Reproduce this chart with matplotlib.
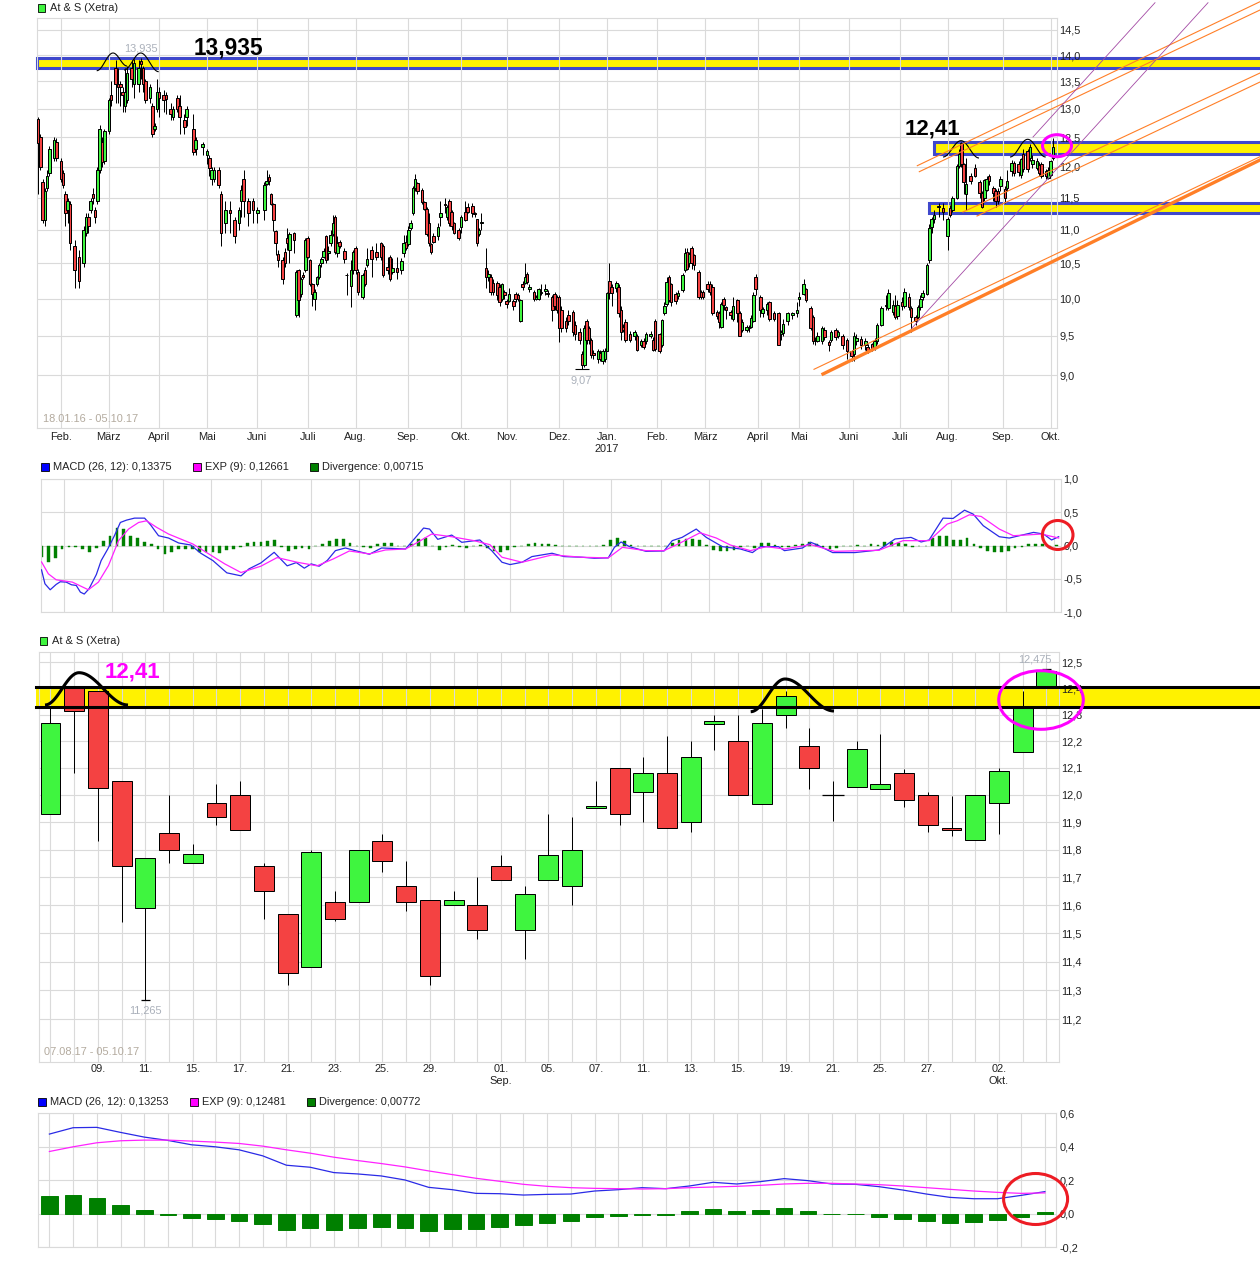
import numpy as np
import matplotlib
matplotlib.use("Agg")
import matplotlib.pyplot as plt
from matplotlib.patches import Rectangle, Ellipse

plt.rcParams["font.family"] = ["Liberation Sans", "DejaVu Sans"]

W, H = 1260, 1272

# long term chart, trading day number and prices
top_day = [0,1,2,3,4,5,7,8,10,11,
    12,13,14,16,18,20,21,22,23,24,
    25,26,27,28,29,31,32,34,35,36,
    37,38,39,41,42,44,45,46,47,49,
    50,51,52,53,55,56,58,59,61,62,
    64,65,68,69,72,74,75,76,77,79,
    80,82,84,86,88,89,90,92,94,96,
    99,100,101,102,103,104,105,107,108,109,
    110,112,113,114,115,116,117,118,119,120,
    121,122,123,124,125,126,127,128,129,130,
    131,132,134,135,137,138,139,140,142,143,
    144,146,148,150,151,153,154,155,157,159,
    160,161,162,163,164,165,166,168,169,170,
    171,172,173,175,176,178,179,180,181,182,
    184,185,187,188,190,191,192,193,194,196,
    197,198,199,201,202,203,204,205,206,208,
    209,210,211,212,213,214,215,217,218,219,
    220,222,223,225,226,227,228,229,231,232,
    234,235,237,238,239,240,241,242,243,245,
    246,247,248,249,250,251,253,254,255,256,
    257,259,261,262,264,265,266,268,269,270,
    272,273,274,275,276,277,279,280,282,283,
    284,285,286,287,289,290,291,293,294,295,
    297,298,299,300,301,303,304,306,307,308,
    310,311,312,313,314,316,317,319,320,322,
    324,325,326,328,330,332,333,335,336,338,
    339,340,341,343,344,346,347,349,350,352,
    354,356,357,358,360,362,363,365,366,367,
    369,371,372,374,375,376,378,379,381,382,
    384,385,386,387,389,390,391,392,394,396,
    398,399,400,402,403,404,405,406,408,410,
    412,413,414,415,416,418,419,420,421,423,
    424,426,427,429,430,431,433,434,435,437,
    438,439,441,442,443,444]
top_open = [12.82,12.5,11.75,11.15,11.65,11.9,12.15,12.42,12.1,11.9,
    11.55,11.3,11.4,10.75,10.6,10.5,10.95,11.2,11.3,11.55,
    11.3,11.45,11.95,12.42,12.1,12.6,13.25,13.75,13.45,13.45,
    13.3,13.05,13.15,13.75,13.45,13.45,13.88,13.75,13.5,13.2,
    13.05,12.65,13.0,13.3,13.25,13.25,13.0,12.85,13.2,13.05,
    12.8,12.85,12.65,12.3,12.33,12.2,12.15,11.8,11.8,11.95,
    11.55,11.1,11.3,11.15,11.1,11.45,11.8,11.45,11.45,11.25,
    11.3,11.72,11.83,11.55,11.4,10.98,10.63,10.55,10.67,10.88,
    10.7,10.95,9.78,10.4,10.07,10.33,10.4,10.88,10.55,10.2,
    10.0,10.2,10.3,10.5,10.6,10.9,10.65,10.8,10.94,11.2,
    10.65,10.82,10.68,10.33,10.18,10.4,10.72,10.38,10.02,10.41,
    10.47,10.7,10.67,10.8,10.76,10.45,10.59,10.37,10.44,10.41,
    10.65,10.81,10.78,11.03,11.25,11.65,11.73,11.62,11.43,11.32,
    11.1,10.78,10.9,10.9,11.2,11.4,11.2,11.45,11.27,11.1,
    11.0,11.04,11.27,11.35,11.36,11.25,11.17,10.93,11.1,10.44,
    10.3,10.3,10.22,10.22,10.17,10.0,10.1,9.97,9.97,9.97,
    10.07,10.05,9.7,10.2,10.22,10.35,10.13,10.1,10.0,10.0,
    10.08,10.11,10.08,10.03,10.07,10.02,10.02,9.85,9.7,9.78,
    9.82,9.65,9.55,9.27,9.12,9.7,9.61,9.45,9.28,9.2,
    9.28,9.18,9.2,9.31,10.25,10.17,10.15,10.17,9.85,9.62,
    9.68,9.53,9.5,9.5,9.38,9.43,9.43,9.5,9.45,9.7,
    9.52,9.38,9.8,9.93,10.3,10.2,10.07,10.04,10.12,10.4,
    10.66,10.5,10.72,10.62,10.37,10.1,10.1,10.2,10.2,10.17,
    9.82,9.8,9.62,10.0,9.88,9.82,9.73,9.98,9.8,9.58,
    9.58,9.6,9.62,9.7,10.3,10.03,9.8,9.85,9.95,9.8,
    9.8,9.53,9.54,9.7,9.78,9.8,10.0,10.07,10.13,9.87,
    9.75,9.43,9.43,9.43,9.58,9.42,9.45,9.58,9.5,9.5,
    9.45,9.3,9.27,9.43,9.46,9.38,9.36,9.39,9.35,9.43,
    9.65,9.9,9.87,9.82,9.9,9.77,9.95,9.9,10.03,9.87,
    9.75,9.75,9.88,10.03,10.07,10.55,11.04,11.17,11.35,11.33,
    10.9,11.33,11.3,11.5,12.02,12.4,12.05,11.55,11.85,11.98,
    11.75,11.57,11.5,11.62,11.85,11.65,11.6,11.6,11.68,11.64,
    11.65,11.93,12.07,12.05,11.87,12.22,12.27,12.15,12.05,11.98,
    12.03,12.05,11.93,11.82,11.87,12.15]
top_close = [12.4,12.0,11.15,11.6,11.85,12.3,12.45,12.15,11.8,11.7,
    11.25,11.45,10.8,10.4,10.25,11.0,11.2,11.05,11.45,11.5,
    11.2,11.95,12.65,12.08,12.6,13.15,13.15,13.45,13.4,13.4,
    13.25,13.3,13.65,13.55,13.85,13.75,13.82,13.45,13.15,13.4,
    12.55,12.7,13.3,13.2,13.15,13.18,12.9,13.0,13.0,12.85,
    12.68,13.0,12.25,12.45,12.38,12.27,11.98,11.95,11.95,11.7,
    10.95,11.3,11.25,10.9,11.3,11.62,11.45,11.25,11.3,11.3,
    11.7,11.76,11.76,11.4,11.15,10.8,10.55,10.28,10.5,10.8,
    10.94,10.85,10.38,9.98,10.27,10.31,10.84,10.6,10.2,10.07,
    10.1,10.3,10.47,10.56,10.68,10.55,10.68,10.92,11.1,10.67,
    10.8,10.75,10.57,10.34,10.4,10.66,10.4,10.1,10.33,10.2,
    10.56,10.56,10.6,10.6,10.33,10.4,10.28,10.43,10.38,10.54,
    10.8,10.72,11.0,11.1,11.65,11.8,11.6,11.43,11.32,10.93,
    10.8,10.67,10.82,11.04,11.25,11.38,11.35,11.1,11.05,10.95,
    10.88,11.2,11.15,11.27,11.25,11.24,10.8,11.0,11.12,10.3,
    10.35,10.1,10.1,10.05,9.95,10.2,10.05,9.93,10.07,9.9,
    10.0,10.0,9.98,10.17,10.3,10.24,10.17,10.0,10.03,10.13,
    10.1,10.13,10.07,9.85,9.9,9.85,9.6,9.6,9.6,9.7,
    9.55,9.53,9.44,9.12,9.6,9.45,9.45,9.25,9.25,9.3,
    9.2,9.31,9.31,10.08,10.08,10.08,10.22,9.8,9.55,9.58,
    9.44,9.45,9.55,9.32,9.43,9.36,9.52,9.53,9.32,9.33,
    9.3,9.71,9.9,10.24,9.98,9.95,9.97,10.08,10.33,10.65,
    10.42,10.63,10.5,10.47,10.03,10.02,10.02,10.13,10.1,9.8,
    9.77,9.68,9.93,9.92,9.85,9.78,9.9,9.8,9.5,9.68,
    9.62,9.62,9.74,10.05,10.13,9.85,9.86,9.93,9.72,9.73,
    9.38,9.55,9.66,9.8,9.8,9.85,10.03,10.2,9.98,9.6,
    9.43,9.45,9.5,9.6,9.48,9.38,9.55,9.48,9.55,9.38,
    9.3,9.24,9.5,9.47,9.38,9.43,9.31,9.34,9.43,9.65,
    9.87,9.92,10.08,9.92,9.75,9.92,9.9,10.1,9.88,9.75,
    9.7,9.88,10.0,10.08,10.47,11.03,11.17,11.22,11.37,11.27,
    11.17,11.22,11.5,12.02,12.22,12.05,11.75,11.72,11.77,11.85,
    11.57,11.35,11.78,11.8,11.77,11.57,11.45,11.45,11.8,11.5,
    11.77,12.07,11.9,11.92,12.13,11.97,11.96,12.33,12.12,12.1,
    11.9,11.85,11.85,11.95,12.09,12.33]
top_high = [12.85,12.55,11.8,11.65,11.95,12.35,12.5,12.48,12.15,11.95,
    11.6,11.5,11.45,10.85,10.7,11.05,11.25,11.25,11.5,11.65,
    11.35,12.0,12.72,12.5,12.65,13.2,13.5,13.9,13.75,13.5,
    13.4,13.75,13.8,13.9,13.93,13.9,13.935,13.8,13.55,13.45,
    13.1,12.75,13.55,13.4,13.35,13.3,13.1,13.05,13.25,13.25,
    12.9,13.05,12.9,12.5,12.42,12.3,12.2,12.0,12.0,12.0,
    11.6,11.45,11.45,11.2,11.35,11.7,11.95,11.5,11.5,11.35,
    11.75,11.95,11.88,11.57,11.42,11.0,10.7,10.6,10.72,11.02,
    10.97,10.97,10.4,10.42,10.3,10.38,10.88,10.9,10.57,10.22,
    10.13,10.32,10.5,10.6,10.72,10.92,10.75,11.0,11.22,11.22,
    10.9,10.85,10.72,10.36,10.55,10.7,10.75,10.42,10.36,10.45,
    10.72,10.75,10.8,10.82,10.78,10.6,10.62,10.58,10.6,10.58,
    10.92,10.92,11.05,11.15,11.68,11.88,11.75,11.65,11.45,11.35,
    11.25,10.8,10.95,11.1,11.45,11.5,11.38,11.47,11.3,11.12,
    11.02,11.22,11.45,11.42,11.42,11.28,11.17,11.03,11.25,10.73,
    10.4,10.35,10.28,10.25,10.2,10.22,10.12,10.0,10.15,10.0,
    10.1,10.08,10.0,10.25,10.5,10.37,10.2,10.12,10.05,10.15,
    10.2,10.2,10.12,10.05,10.1,10.05,10.05,9.9,9.75,9.85,
    9.85,9.7,9.6,9.3,9.65,9.72,9.63,9.47,9.32,9.33,
    9.32,9.33,9.34,10.1,10.5,10.2,10.25,10.2,9.9,9.66,
    9.72,9.57,9.58,9.53,9.46,9.47,9.55,9.56,9.48,9.72,
    9.54,9.73,9.95,10.3,10.33,10.22,10.1,10.12,10.36,10.72,
    10.72,10.66,10.75,10.64,10.4,10.12,10.12,10.25,10.25,10.2,
    9.85,9.83,9.95,10.02,9.9,9.85,10.02,10.0,9.83,9.72,
    9.65,9.65,9.78,10.1,10.35,10.05,9.88,9.96,9.97,9.83,
    9.82,9.58,9.72,9.82,9.82,9.95,10.1,10.28,10.15,9.9,
    9.78,9.48,9.55,9.63,9.62,9.45,9.58,9.6,9.58,9.52,
    9.47,9.32,9.55,9.53,9.5,9.47,9.39,9.41,9.47,9.67,
    9.9,10.05,10.13,9.98,10.05,9.98,10.02,10.15,10.08,9.9,
    9.78,9.92,10.05,10.12,10.5,11.08,11.2,11.3,11.42,11.42,
    11.2,11.38,11.53,12.05,12.3,12.41,12.07,12.15,11.9,12.05,
    11.78,11.6,11.8,11.85,11.88,11.68,11.63,11.65,11.85,11.68,
    11.95,12.12,12.1,12.1,12.15,12.3,12.3,12.38,12.2,12.15,
    12.08,12.08,11.97,12.0,12.12,12.48]
top_low = [11.55,11.95,11.1,11.05,11.6,11.85,12.1,12.1,11.75,11.65,
    11.05,11.1,10.7,10.15,10.15,10.45,10.9,10.95,11.25,11.4,
    11.1,11.4,11.9,12.0,12.05,12.55,13.05,13.1,13.1,13.05,
    12.95,12.95,13.1,13.4,13.2,13.3,13.55,13.3,13.1,13.1,
    12.5,12.6,12.95,12.85,12.95,12.9,12.8,12.8,12.95,12.55,
    12.55,12.7,12.2,12.2,12.2,12.05,11.85,11.7,11.75,11.65,
    10.75,10.95,10.95,10.8,11.0,11.2,11.2,11.05,11.1,11.1,
    11.15,11.7,11.7,11.38,10.98,10.62,10.45,10.2,10.45,10.7,
    10.5,10.65,9.75,9.75,10.03,10.28,10.38,10.58,10.18,9.9,
    9.85,10.18,10.28,10.45,10.58,10.5,10.55,10.75,10.9,10.63,
    10.6,10.72,10.5,10.05,9.88,10.35,10.35,10.05,10.0,10.18,
    10.45,10.3,10.55,10.55,10.3,10.35,10.25,10.35,10.28,10.35,
    10.6,10.7,10.75,11.0,11.22,11.6,11.55,11.4,11.3,10.9,
    10.75,10.63,10.8,10.85,11.05,11.25,11.15,11.05,11.0,10.93,
    10.85,10.95,11.13,11.25,11.2,11.2,10.75,10.9,11.0,10.15,
    10.25,10.05,10.05,9.98,9.9,9.97,10.0,9.87,9.95,9.85,
    9.95,9.97,9.68,10.12,10.2,10.2,10.1,9.97,9.98,9.98,
    10.05,10.05,10.02,9.7,9.85,9.8,9.42,9.55,9.55,9.65,
    9.5,9.45,9.4,9.07,9.1,9.4,9.4,9.22,9.2,9.15,
    9.17,9.14,9.16,9.3,10.0,9.9,10.1,9.75,9.45,9.55,
    9.42,9.42,9.45,9.3,9.35,9.33,9.4,9.47,9.3,9.3,
    9.28,9.36,9.78,9.9,9.95,9.9,9.93,10.0,10.1,10.38,
    10.4,10.45,10.42,10.4,10.0,10.0,10.0,10.1,10.05,9.78,
    9.72,9.6,9.6,9.85,9.72,9.72,9.7,9.68,9.5,9.55,
    9.55,9.55,9.6,9.68,10.05,9.75,9.75,9.78,9.7,9.7,
    9.38,9.45,9.5,9.65,9.72,9.75,9.9,10.05,9.95,9.58,
    9.4,9.38,9.42,9.4,9.45,9.3,9.42,9.45,9.47,9.33,
    9.2,9.17,9.17,9.38,9.33,9.32,9.28,9.3,9.32,9.4,
    9.63,9.85,9.85,9.78,9.72,9.72,9.85,9.87,9.85,9.55,
    9.65,9.72,9.85,9.98,10.05,10.5,10.95,11.1,11.2,11.15,
    10.7,11.2,11.28,11.48,11.98,12.0,11.55,11.3,11.72,11.83,
    11.5,11.33,11.45,11.6,11.7,11.45,11.35,11.4,11.6,11.42,
    11.6,11.85,11.85,11.85,11.82,11.92,11.92,12.1,11.98,11.95,
    11.85,11.82,11.8,11.8,11.85,12.12]

month_days = [10,31,53,74,96,118,139,162,185,205,228,249,271,292,315,333,355,377,398,422,443]
month_labels = ["Feb.","März","April","Mai","Juni","Juli","Aug.","Sep.","Okt.","Nov.","Dez.","Jan.\n2017",
    "Feb.","März","April","Mai","Juni","Juli","Aug.","Sep.","Okt."]
top_ticks = [9.0,9.5,10.0,10.5,11.0,11.5,12.0,12.5,13.0,13.5,14.0,14.5]
top_tick_labels = ["9,0","9,5","10,0","10,5","11,0","11,5","12,0","12,5","13,0","13,5","14,0","14,5"]

# MACD of the long term chart
macd_day = [0,1.5,3.8,6.4,8.2,10.8,13.1,15.2,17,18.7,20.8,24,26.1,29,31.9,34.5,37.2,40.7,45.1,47.7,
    51.2,55.6,60,65.3,69.7,75,81.1,87.3,90.8,96,101.8,107.5,111.5,115,118,121.5,125,128.6,133,137.3,
    143.5,148.8,159.3,163.7,167.2,169.8,173.4,179.5,183.9,191.8,197,201.5,205,210.3,214.6,223.4,228.7,236.6,241.9,248,
    250.7,253.6,257.3,264.5,272.4,276,280.3,286.5,290.9,297.9,305.8,311.1,314.6,322.5,325.1,333,336.6,339.2,346.2,355.9,
    366.4,373.5,380.5,384.9,388.4,394.5,398.9,403.9,407.7,412.1,419.1,423.5,434.1,438.5,442,445.1]
macd_val = [-0.363,-0.572,-0.662,-0.582,-0.542,-0.547,-0.587,-0.597,-0.697,-0.726,-0.647,-0.433,-0.224,-0.05,0.149,0.348,0.383,0.413,0.413,0.313,
    0.149,0.114,0.04,0.01,-0.114,-0.224,-0.408,-0.453,-0.348,-0.259,-0.1,-0.303,-0.254,-0.338,-0.274,-0.308,-0.224,-0.075,-0.035,-0.075,
    -0.129,-0.035,-0.05,0.124,0.264,0.249,0.095,0.159,0.05,0.085,-0.075,-0.249,-0.284,-0.249,-0.164,-0.114,-0.164,-0.174,-0.189,-0.184,
    -0.025,0.055,-0.015,-0.085,-0.08,0.075,0.124,0.249,0.124,-0.015,-0.05,-0.104,-0.015,-0.015,-0.075,-0.035,0.05,0.015,-0.104,-0.104,
    -0.065,0.1,0.124,0.055,0.085,0.413,0.408,0.532,0.473,0.299,0.134,0.114,0.199,0.174,0.085,0.134]
exp_day = [0,3,6.4,13.5,20.5,24.9,29.3,33.7,38.1,42.5,46,50.4,55.6,66.2,73.2,80.2,87.3,96,103.1,111.9,
    120.6,127.7,134.7,143.5,150.5,159.3,164.6,170.7,179.5,189.2,196.2,201.5,210.3,223.4,236.6,248,254.2,264.5,272.4,278.6,
    288.2,295.3,301.4,310.2,317.2,325.1,336.6,347.1,366.4,377,388.4,396.3,400.7,406,411.2,419.1,425.3,437.6,445.1]
exp_val = [-0.244,-0.423,-0.512,-0.547,-0.662,-0.547,-0.299,0.075,0.249,0.348,0.373,0.274,0.174,0.025,-0.124,-0.274,-0.403,-0.308,-0.179,-0.249,
    -0.303,-0.199,-0.08,-0.124,-0.065,-0.05,0.05,0.174,0.134,0.075,0.015,-0.174,-0.249,-0.139,-0.174,-0.184,-0.025,-0.075,-0.075,0.025,
    0.194,0.114,0.01,-0.075,-0.015,-0.05,0.015,-0.085,-0.07,0.075,0.075,0.323,0.373,0.463,0.438,0.249,0.149,0.174,0.114]
# one value every third trading day
div_val = [-0.17,-0.25,-0.18,-0.05,-0.02,-0.02,-0.05,-0.09,-0.04,0.07,0.15,0.27,0.25,0.14,0.11,0.05,0.03,-0.05,-0.12,-0.09,
    -0.05,-0.05,-0.05,-0.1,-0.09,-0.1,-0.11,-0.07,-0.05,-0.02,0.04,0.05,0.06,0.07,0.09,-0.02,-0.08,-0.05,-0.03,-0.05,
    0.0,0.02,0.07,0.1,0.1,0.04,0.0,-0.02,-0.03,0.02,0.04,0.04,0.0,-0.01,0.03,0.1,0.12,0.0,-0.06,-0.02,
    0.01,-0.02,-0.03,-0.01,0.01,-0.03,-0.08,-0.1,-0.07,-0.02,0.0,0.03,0.04,0.03,0.03,0.01,-0.01,-0.01,-0.01,-0.01,
    0.0,0.0,0.01,0.09,0.12,0.07,0.01,0.0,-0.01,0.0,-0.01,-0.01,0.04,0.09,0.1,0.1,0.08,0.01,-0.06,-0.08,
    -0.08,-0.06,-0.02,-0.01,-0.03,0.04,0.04,0.01,-0.02,-0.02,0.01,0.03,0.06,0.02,-0.02,-0.05,-0.04,-0.01,-0.01,0.01,
    0.0,0.02,0.01,0.05,0.06,0.04,0.03,-0.02,-0.01,-0.01,0.12,0.14,0.15,0.08,0.08,0.11,0.02,-0.03,-0.08,-0.1,
    -0.1,-0.08,-0.04,-0.02,0.02,0.03,0.02,-0.03,0.01]
macd_ticks = [-1.0,-0.5,0.0,0.5,1.0]
macd_tick_labels = ["-1,0","-0,5","0,0","0,5","1,0"]

# short term chart, 07.08.17 - 05.10.17
d_open = [11.93,12.4,12.39,12.05,11.59,11.86,11.75,11.97,12.0,11.74,
    11.57,11.38,11.61,11.61,11.83,11.67,11.62,11.6,11.6,11.74,
    11.51,11.69,11.67,11.95,12.1,12.01,12.08,11.9,12.265,12.2,
    11.965,12.3,12.18,12.0,12.03,12.02,12.08,12.0,11.88,11.835,
    11.97,12.16,12.41]
d_close = [12.27,12.315,12.025,11.74,11.77,11.8,11.785,11.92,11.87,11.65,
    11.36,11.79,11.55,11.8,11.76,11.61,11.35,11.62,11.51,11.69,
    11.64,11.78,11.8,11.96,11.93,12.08,11.88,12.14,12.275,12.0,
    12.27,12.37,12.1,12.0,12.17,12.04,11.98,11.89,11.87,12.0,
    12.09,12.33,12.465]
d_high = [12.33,12.41,12.39,12.05,11.77,12.0,11.82,12.04,12.05,11.75,
    11.57,11.8,11.65,11.8,11.855,11.76,11.62,11.65,11.7,11.78,
    11.67,11.93,11.92,12.05,12.1,12.14,12.22,12.2,12.3,12.3,
    12.32,12.39,12.25,12.05,12.2,12.225,12.095,12.01,11.995,12.0,
    12.1,12.39,12.475]
d_low = [11.93,12.08,11.83,11.54,11.265,11.75,11.75,11.89,11.87,11.55,
    11.32,11.38,11.545,11.61,11.72,11.58,11.32,11.6,11.48,11.69,
    11.41,11.69,11.6,11.95,11.89,11.9,11.88,11.865,12.165,12.0,
    11.965,12.25,12.02,11.905,12.03,12.02,11.955,11.865,11.85,11.835,
    11.855,12.16,12.41]
d_tick_pos = [2,4,6,8,10,12,14,16,19,21,23,25,27,29,31,33,35,37,40]
d_tick_labels = ["09.","11.","15.","17.","21.","23.","25.","29.","01.\nSep.","05.","07.","11.","13.","15.","19.","21.","25.","27.","02.\nOkt."]
d_ticks = [11.2,11.3,11.4,11.5,11.6,11.7,11.8,11.9,12.0,12.1,12.2,12.3,12.4,12.5]
d_tick_text = ["11,2","11,3","11,4","11,5","11,6","11,7","11,8","11,9","12,0","12,1","12,2","12,3","12,4","12,5"]

d_macd = [0.476,0.514,0.516,0.486,0.458,0.438,0.412,0.4,0.382,0.346,0.29,0.278,0.246,0.238,0.226,0.202,0.158,0.144,0.122,0.12,
    0.112,0.116,0.118,0.136,0.144,0.156,0.15,0.166,0.188,0.178,0.192,0.21,0.198,0.178,0.176,0.162,0.142,0.118,0.098,0.09,
    0.09,0.11,0.1325]
d_exp = [0.372,0.4,0.424,0.436,0.44,0.44,0.434,0.428,0.42,0.404,0.382,0.362,0.338,0.318,0.3,0.28,0.256,0.234,0.212,0.194,
    0.176,0.164,0.156,0.152,0.15,0.148,0.15,0.156,0.16,0.164,0.17,0.178,0.182,0.182,0.178,0.174,0.166,0.156,0.146,0.136,
    0.128,0.122,0.1248]
d_div = [0.106,0.112,0.094,0.052,0.022,-0.006,-0.026,-0.032,-0.044,-0.062,-0.098,-0.086,-0.098,-0.086,-0.08,-0.086,-0.104,-0.092,-0.092,-0.08,
    -0.068,-0.056,-0.044,-0.02,-0.014,-0.008,-0.008,0.016,0.028,0.016,0.022,0.034,0.016,-0.004,-0.004,-0.02,-0.032,-0.044,-0.056,-0.05,
    -0.038,-0.02,0.012]
d_macd_ticks = [-0.2,0.0,0.2,0.4,0.6]
d_macd_labels = ["-0,2","0,0","0,2","0,4","0,6"]

GRID = "#dadada"
GREEN = "#3ff53f"
RED = "#f44242"
YELLOW = "#fff200"
BAND_BLUE = "#3f48cc"
ORANGE = "#ff7f27"
PURPLE = "#a349a4"
TXT = "#222222"
GREY = "#aab0ba"

fig = plt.figure(figsize=(W / 100, H / 100), dpi=100, facecolor="white")


def make_ax(left, top, right, bottom):
    ax = fig.add_axes([left / W, 1 - bottom / H, (right - left) / W, (bottom - top) / H])
    ax.set_axisbelow(True)
    ax.grid(True, color=GRID, lw=0.8)
    for s in ax.spines.values():
        s.set_color(GRID)
        s.set_linewidth(0.8)
    ax.yaxis.tick_right()
    ax.tick_params(length=0, labelsize=7.9, labelcolor=TXT, pad=2.5)
    ax.tick_params(axis="x", pad=3)
    ax.tick_params(axis="y", pad=2)
    return ax


def candles(ax, x, o, c, h, l, width, lw=0.72):
    x, o, c, h, l = [np.array(v, dtype=float) for v in (x, o, c, h, l)]
    ax.vlines(x, l, h, color="black", lw=lw, zorder=3)
    cols = [GREEN if b >= a else RED for a, b in zip(o, c)]
    ax.bar(x, np.abs(c - o), width=width, bottom=np.minimum(o, c), color=cols,
           edgecolor="black", linewidth=lw, zorder=4)


# long term candles
ax1 = make_ax(36.5, 18.3, 1056.5, 428)
ax1.set_yscale("log")
ax1.set_xlim(-0.65, 445.6)
ax1.set_ylim(8.365, 14.73)
ax1.set_yticks(top_ticks, top_tick_labels)
ax1.minorticks_off()
ax1.set_xticks(month_days, month_labels)
candles(ax1, *[np.array(v) for v in zip(*zip(top_day, top_open, top_close, top_high, top_low, strict=True))], 1.1, 0.72)
ax1.hlines(9.07, 235, 241, color="black", lw=0.8, zorder=3)
for lo, hi, start in [(13.75, 13.95, -0.5), (12.22, 12.41, 392), (11.25, 11.42, 390)]:
    ax1.add_patch(Rectangle((start, lo), 540 - start, hi - lo, facecolor=YELLOW,
                            edgecolor=BAND_BLUE, lw=2.2, clip_on=False, zorder=0.2))
ax1.text(45, 14.12, "13,935", color=GREY, fontsize=7.9, ha="center", va="center")
ax1.text(237.5, 8.93, "9,07", color=GREY, fontsize=7.9, ha="center", va="center")
ax1.text(2, 8.47, "18.01.16 - 05.10.17", color="#b3aa9e", fontsize=7.9, ha="left", va="center")

# long term MACD
ax2 = make_ax(40.6, 479, 1060.5, 612.3)
ax2.set_xlim(-0.4, 445.9)
ax2.set_ylim(-1.0, 1.0)
ax2.set_yticks(macd_ticks, macd_tick_labels)
ax2.set_xticks(month_days, [])
ax2.bar(np.arange(len(div_val)) * 3, div_val, width=1.2, color="#008000", edgecolor="#008000", linewidth=0.3, zorder=2)
ax2.plot(macd_day, macd_val, color="#2a2ae6", lw=0.9, zorder=3)
ax2.plot(exp_day, exp_val, color="#ff22ff", lw=0.9, zorder=3)

# short term candles
ax3 = make_ax(38.5, 651.7, 1058.7, 1061.7)
ax3.set_yscale("log")
ax3.set_xlim(-0.506, 42.52)
ax3.set_ylim(11.055, 12.54)
ax3.set_yticks(d_ticks, d_tick_text)
ax3.minorticks_off()
ax3.set_xticks(np.arange(43), [""] * 43)
days = np.arange(len(d_open))
candles(ax3, days, d_open, d_close, d_high, d_low, 0.84)
ax3.hlines(11.265, 3.82, 4.18, color="black", lw=0.9, zorder=3)
ax3.hlines(12.475, 41.82, 42.18, color="black", lw=0.9, zorder=3)
ax3.hlines(12.0, 32.55, 33.45, color="black", lw=0.9, zorder=3)
for t, lab in zip(d_tick_pos, d_tick_labels):
    ax3.annotate(lab, (t, 0), xycoords=("data", "axes fraction"), xytext=(0, -2), textcoords="offset points",
                 ha="center", va="top", fontsize=7.9, color=TXT, linespacing=1.15)
ax3.add_patch(Rectangle((-0.6, 12.33), 60, 12.405 - 12.33, facecolor=YELLOW, edgecolor="none",
                        clip_on=False, zorder=0.2))
for lev in (12.33, 12.405):
    ax3.plot([-0.6, 60], [lev, lev], color="black", lw=2.2, clip_on=False, zorder=5)
ax3.text(4, 11.229, "11,265", color=GREY, fontsize=7.9, ha="center", va="center")
ax3.text(41.5, 12.51, "12,475", color=GREY, fontsize=7.9, ha="center", va="center")
ax3.text(-0.27, 11.088, "07.08.17 - 05.10.17", color="#b3aa9e", fontsize=7.9, ha="left", va="center")

# short term MACD
ax4 = make_ax(37.7, 1113.3, 1056.5, 1247.3)
ax4.set_xlim(-0.494, 42.49)
ax4.set_ylim(-0.2, 0.6)
ax4.set_yticks(d_macd_ticks, d_macd_labels)
ax4.set_xticks(np.arange(43), [])
ax4.bar(days, d_div, width=0.7, color="#008000", edgecolor="#008000", linewidth=0.7, zorder=2)
ax4.plot(days, d_macd, color="#2a2ae6", lw=0.9, zorder=3)
ax4.plot(days, d_exp, color="#ff22ff", lw=0.9, zorder=3)

# hand drawn stuff and legends go on a transparent layer in picture pixels
ov = fig.add_axes([0, 0, 1, 1], zorder=10)
ov.set_xlim(0, W)
ov.set_ylim(H, 0)
ov.axis("off")


def bump(x0, xp, x1, ytop, y0, y1, lw):
    s = np.linspace(0, 1, 30)
    xs = np.concatenate([x0 + (xp - x0) * s, xp + (x1 - xp) * s])
    ys = np.concatenate([y0 + (ytop - y0) * (1 - np.cos(s * np.pi)) / 2,
                         ytop + (y1 - ytop) * (1 - np.cos(s * np.pi)) / 2])
    ov.plot(xs, ys, color="black", lw=lw, solid_capstyle="butt")


bump(96.7, 113, 127, 53, 70.7, 66, 0.8)
bump(124, 140.7, 158.7, 53, 70, 71.7, 0.8)
bump(943, 961, 979, 140.7, 157, 158, 0.8)
bump(1010, 1027.7, 1045.7, 139.3, 157, 157, 0.8)
bump(45, 79, 128, 672.7, 705, 705, 2.2)
bump(750.7, 785, 834, 679, 711.7, 711, 2.2)

ov.plot([823, 1260], [374, 160], color=ORANGE, lw=2.4)
for x0, y0, x1, y1 in [(814, 369.3, 1260, 156.7), (917.3, 165.7, 1260, 1.7), (919.3, 171.7, 1260, 10),
                       (963, 212, 1260, 73), (977, 216, 1260, 82)]:
    ov.plot([x0, x1], [y0, y1], color=ORANGE, lw=0.8)
for x0, y0, x1, y1 in [(911.7, 328.3, 1208, 2.7), (1033, 137, 1155, 2.7)]:
    ov.plot([x0, x1], [y0, y1], color=PURPLE, lw=0.6)

ov.add_patch(Ellipse((1057, 145.7), 29, 22, fill=False, edgecolor="#ff00ff", lw=2.2))
ov.add_patch(Ellipse((1041, 700), 84.6, 58.6, fill=False, edgecolor="#ff00ff", lw=2.2))
ov.add_patch(Ellipse((1057.7, 535), 30.6, 29, fill=False, edgecolor="#ed1c24", lw=2.2))
ov.add_patch(Ellipse((1035.6, 1199), 64, 51, fill=False, edgecolor="#ed1c24", lw=2.2))

ov.text(228, 48, "13,935", fontsize=16.3, fontweight="bold", color="black", ha="center", va="center")
ov.text(932.5, 129, "12,41", fontsize=16, fontweight="bold", color="black", ha="center", va="center")
ov.text(132.5, 672, "12,41", fontsize=16, fontweight="bold", color="#ff00ff", ha="center", va="center")


def legend(x_box, y, text, color):
    ov.add_patch(Rectangle((x_box, y - 4), 7.5, 7.5, facecolor=color, edgecolor="black", lw=0.6))
    ov.text(x_box + 12, y, text, fontsize=7.9, color=TXT, ha="left", va="center")


legend(37.5, 8, "At & S (Xetra)", GREEN)
legend(39.5, 641, "At & S (Xetra)", GREEN)
legend(41, 467, "MACD (26, 12): 0,13375", "#0000ff")
legend(193, 467, "EXP (9): 0,12661", "#ff00ff")
legend(310, 467, "Divergence: 0,00715", "#008000")
legend(38, 1102, "MACD (26, 12): 0,13253", "#0000ff")
legend(190, 1102, "EXP (9): 0,12481", "#ff00ff")
legend(307, 1102, "Divergence: 0,00772", "#008000")

fig.savefig("out.png", dpi=100)
